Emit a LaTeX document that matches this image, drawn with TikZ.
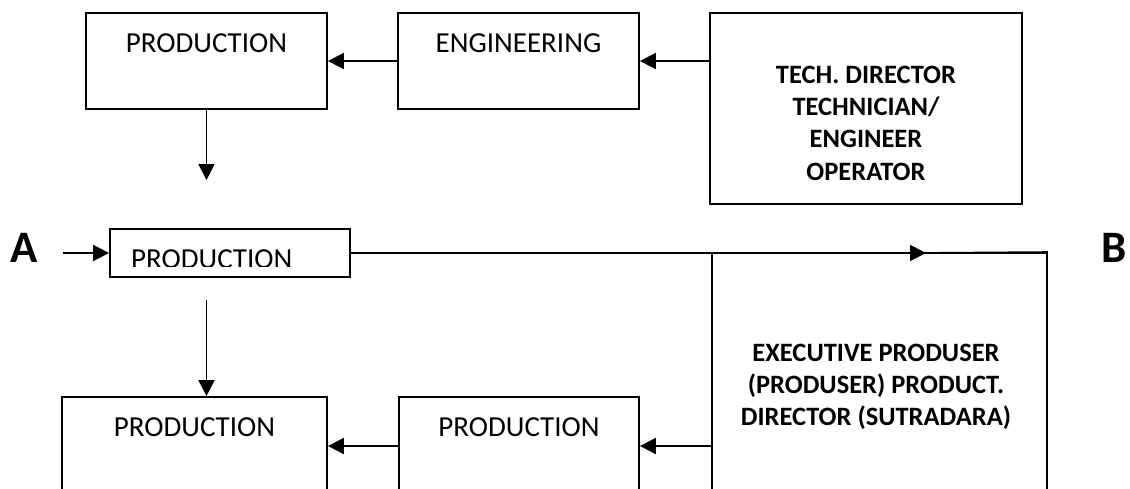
\documentclass[tikz,border=0pt]{standalone}
\usepackage{fontspec}
\setmainfont{Carlito}
\usetikzlibrary{arrows.meta}
\begin{document}
\begin{tikzpicture}[x=1pt,y=-1pt,
  box/.style={draw, line width=1.8pt, inner sep=0pt, rectangle},
  arr/.style={line width=1.8pt, -{Triangle[length=16pt,width=16pt]}},
  ln/.style={line width=1.8pt},
  reg/.style={font=\fontsize{29}{34}\selectfont, inner sep=0pt},
  bld/.style={font=\fontsize{26.5}{32.3}\selectfont\bfseries, inner sep=0pt, align=center},
  big/.style={font=\fontsize{45}{50}\selectfont\bfseries, inner sep=0pt}]
\useasboundingbox (0,0) rectangle (1130,488);
\clip (0,0) rectangle (1130,488);
% top row
\node[box, minimum width=241pt, minimum height=96pt] (p1) at (206.5,61) {};
\node[reg, anchor=base] (p1t) at (206.5,52) {PRODUCTION};
\node[box, minimum width=241pt, minimum height=96pt] (eng) at (518.5,61) {};
\node[reg, anchor=base] (engt) at (518.5,52) {ENGINEERING};
\node[box, minimum width=312pt, minimum height=191pt] (td) at (866,108.5) {};
\node[bld] (tdt) at (866,123) {TECH. DIRECTOR\\TECHNICIAN/\\ENGINEER\\OPERATOR};
\draw[arr] (eng.west) -- (p1.east);
\draw[arr] (td.west |- eng.east) -- (eng.east);
\coordinate (d1) at (206.5,180);
\draw[arr] (p1.south) -- (d1);
% middle row
\node[big, anchor=base] (A) at (24.5,262) {A};
\node[big, anchor=base] (B) at (1114,262) {B};
\node[box, minimum width=240pt, minimum height=48pt] (ab) at (230,253) {};
\begin{scope}
  \clip (111,230) rectangle (349,266.5);
  \node[reg, anchor=base west] (abt) at (131,268) {PRODUCTION};
\end{scope}
\coordinate (a0) at (63,253);
\draw[arr] (a0) -- (ab.west);
\node[box, minimum width=335pt, minimum height=247pt] (ep) at (879.5,376.5) {};
\node[bld] (ept) at (876,387) {EXECUTIVE PRODUSER\\(PRODUSER) PRODUCT.\\DIRECTOR (SUTRADARA)};
\coordinate (mh) at (926,253);
\draw[arr] (ab.east) -- (mh);
\draw[ln] (mh) -- (ep.north east);
% bottom row
\node[box, minimum width=265pt, minimum height=98pt] (ll) at (194.5,446) {};
\node[reg, anchor=base] (llt) at (194.5,436) {PRODUCTION};
\node[box, minimum width=240pt, minimum height=98pt] (lm) at (519,446) {};
\node[reg, anchor=base] (lmt) at (519,436) {PRODUCTION};
\draw[arr] (lm.west) -- (ll.east);
\draw[arr] (ep.west |- lm.west) -- (lm.east);
\coordinate (d2) at (206.5,300);
\draw[arr] (d2) -- (d2 |- ll.north);
\end{tikzpicture}
\end{document}
